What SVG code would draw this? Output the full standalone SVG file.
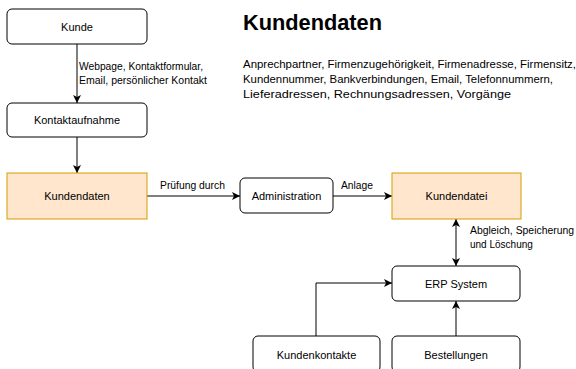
<svg xmlns="http://www.w3.org/2000/svg" width="576" height="369" viewBox="0 0 576 369">
<defs>
<marker id="arr" markerUnits="userSpaceOnUse" markerWidth="10" markerHeight="10" refX="8" refY="4" orient="auto-start-reverse" viewBox="0 0 10 8">
<path d="M0,0 L8,4 L0,8 L2,4 z" fill="#000"/>
</marker>
<style>
.box{fill:#fff;stroke:#000;stroke-width:1}
.org{fill:#ffe6cc;stroke:#d79b00;stroke-width:1}
.t{font-family:"Liberation Sans",Arial,sans-serif;font-size:11px;fill:#000;text-anchor:middle;dominant-baseline:central}
.lbl{font-family:"Liberation Sans",Arial,sans-serif;font-size:10px;fill:#000}
.body{font-family:"Liberation Sans",Arial,sans-serif;font-size:11px;fill:#000}
.c{fill:none;stroke:#000;stroke-width:1;marker-end:url(#arr)}
</style>
</defs>
<rect width="576" height="369" fill="#fff"/>

<g id="title">
<text x="243" y="30" font-family="Liberation Sans, Arial, sans-serif" font-size="22" font-weight="bold" textLength="139" lengthAdjust="spacingAndGlyphs">Kundendaten</text>
<text class="body" x="243" y="68" textLength="333" lengthAdjust="spacingAndGlyphs">Anprechpartner, Firmenzugehörigkeit, Firmenadresse, Firmensitz,</text>
<text class="body" x="243" y="83" textLength="310" lengthAdjust="spacingAndGlyphs">Kundennummer, Bankverbindungen, Email, Telefonnummern,</text>
<text class="body" x="243" y="98" textLength="268" lengthAdjust="spacingAndGlyphs">Lieferadressen, Rechnungsadressen, Vorgänge</text>
</g>

<g id="connectors">
<path class="c" d="M77,44 L77,103"/>
<path class="c" d="M77,137 L77,173"/>
<path class="c" d="M147,196 L240,196"/>
<path class="c" d="M333,196 L392,196"/>
<path class="c" d="M456,219 L456,266" style="marker-start:url(#arr)"/>
<path class="c" d="M316,336 L316,283 L392,283"/>
<path class="c" d="M456,336 L456,301"/>
<text class="lbl" x="79" y="70" textLength="124" lengthAdjust="spacingAndGlyphs">Webpage, Kontaktformular,</text>
<text class="lbl" x="79" y="84" textLength="128" lengthAdjust="spacingAndGlyphs">Email, persönlicher Kontakt</text>
<text class="lbl" x="160" y="189" textLength="65" lengthAdjust="spacingAndGlyphs">Prüfung durch</text>
<text class="lbl" x="341" y="189" textLength="32" lengthAdjust="spacingAndGlyphs">Anlage</text>
<text class="lbl" x="470" y="234" textLength="104" lengthAdjust="spacingAndGlyphs">Abgleich, Speicherung</text>
<text class="lbl" x="470" y="248">und Löschung</text>
</g>

<g id="kunde"><rect class="box" x="7" y="9" width="140" height="35" rx="5"/><text class="t" x="77" y="26.5">Kunde</text></g>
<g id="kontaktaufnahme"><rect class="box" x="7" y="103" width="140" height="34" rx="5"/><text class="t" x="77" y="120">Kontaktaufnahme</text></g>
<g id="kundendaten"><rect class="org" x="7" y="173" width="140" height="46"/><text class="t" x="77" y="196">Kundendaten</text></g>
<g id="administration"><rect class="box" x="240" y="178" width="93" height="35" rx="5"/><text class="t" x="286.5" y="196">Administration</text></g>
<g id="kundendatei"><rect class="org" x="392" y="173" width="129" height="46"/><text class="t" x="456.5" y="196">Kundendatei</text></g>
<g id="erp"><rect class="box" x="392" y="266" width="128" height="35" rx="5"/><text class="t" x="456" y="283.5">ERP System</text></g>
<g id="kundenkontakte"><rect class="box" x="253" y="336" width="127" height="36" rx="5"/><text class="t" x="316.5" y="354.5">Kundenkontakte</text></g>
<g id="bestellungen"><rect class="box" x="392" y="336" width="128" height="36" rx="5"/><text class="t" x="456" y="354.5">Bestellungen</text></g>
</svg>
